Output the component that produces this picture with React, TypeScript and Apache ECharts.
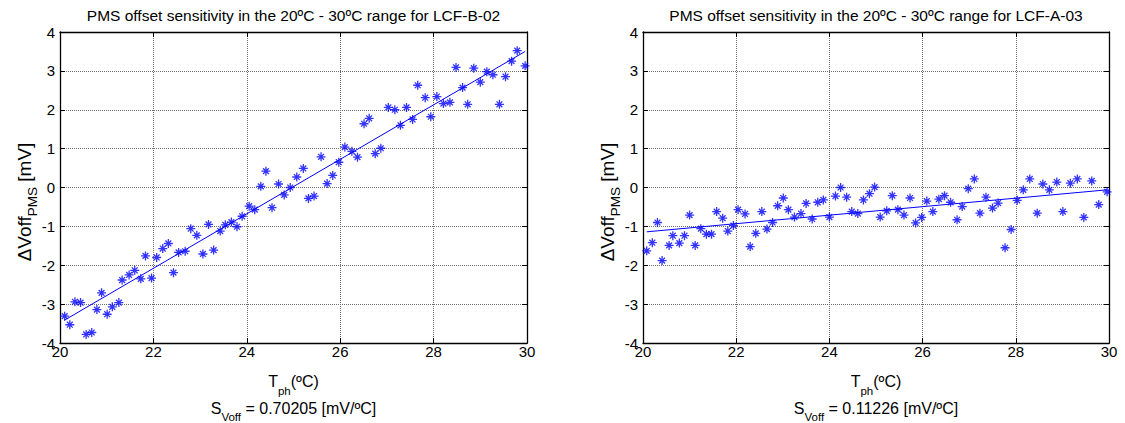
import React, { useEffect, useRef } from "react";
import * as echarts from "echarts";

// ---- data ----
const leftX = [20.10,20.21,20.32,20.44,20.56,20.68,20.79,20.89,21.01,21.12,21.26,21.33,21.48,21.60,21.73,21.83,21.96,22.07,22.20,22.32,22.43,22.54,22.68,22.80,22.93,23.06,23.18,23.29,23.43,23.54,23.67,23.79,23.90,24.05,24.17,24.30,24.41,24.54,24.68,24.80,24.93,25.07,25.21,25.32,25.44,25.59,25.72,25.84,25.97,26.10,26.25,26.37,26.51,26.62,26.75,26.87,27.03,27.17,27.29,27.42,27.55,27.66,27.82,27.94,28.07,28.21,28.35,28.48,28.62,28.73,28.86,29.00,29.14,29.27,29.41,29.54,29.67,29.79,29.96];
const leftY = [-3.31,-3.53,-2.94,-2.96,-3.78,-3.73,-3.14,-2.71,-3.26,-3.07,-2.96,-2.38,-2.25,-2.13,-2.35,-1.76,-2.33,-1.80,-1.57,-1.44,-2.19,-1.67,-1.64,-1.06,-1.23,-1.71,-0.95,-1.61,-1.12,-0.96,-0.89,-1.01,-0.74,-0.48,-0.57,0.03,0.42,-0.52,0.09,-0.19,0.00,0.27,0.49,-0.28,-0.22,0.79,0.10,0.31,0.65,1.04,0.93,0.78,1.64,1.78,0.87,1.01,2.06,2.00,1.60,2.06,1.75,2.63,2.31,1.82,2.34,2.16,2.19,3.09,2.57,2.14,3.07,2.71,2.98,2.90,2.14,2.85,3.25,3.52,3.13];
const leftFitX = [20.10, 29.96];
const leftFitY = [-3.41, 3.50];

const rightX = [20.08,20.20,20.31,20.41,20.56,20.64,20.78,20.89,21.00,21.12,21.24,21.36,21.47,21.58,21.71,21.82,21.94,22.04,22.19,22.30,22.42,22.55,22.66,22.78,22.89,23.01,23.12,23.25,23.39,23.50,23.63,23.75,23.87,24.00,24.13,24.24,24.37,24.48,24.61,24.73,24.86,24.97,25.09,25.23,25.35,25.47,25.60,25.73,25.85,25.98,26.09,26.22,26.35,26.47,26.60,26.74,26.85,26.98,27.11,27.23,27.36,27.50,27.62,27.77,27.90,28.03,28.16,28.30,28.46,28.58,28.72,28.88,29.01,29.17,29.32,29.46,29.63,29.78,29.96];
const rightY = [-1.63,-1.42,-0.90,-1.88,-1.49,-1.24,-1.43,-1.24,-0.71,-1.49,-1.06,-1.20,-1.20,-0.62,-0.79,-1.12,-0.98,-0.57,-0.68,-1.52,-1.18,-0.62,-1.07,-0.90,-0.47,-0.27,-0.57,-0.76,-0.67,-0.41,-0.81,-0.38,-0.32,-0.76,-0.22,0.00,-0.25,-0.62,-0.67,-0.32,-0.16,0.01,-0.76,-0.60,-0.21,-0.57,-0.71,-0.27,-0.91,-0.77,-0.35,-0.62,-0.30,-0.21,-0.38,-0.83,-0.49,-0.03,0.22,-0.66,-0.25,-0.53,-0.40,-1.55,-1.08,-0.33,-0.06,0.22,-0.66,0.09,-0.06,0.14,-0.62,0.11,0.22,-0.77,0.17,-0.44,-0.11];
const rightFitX = [20.08, 29.96];
const rightFitY = [-1.14, -0.06];

const titles = [
  "PMS offset sensitivity in the 20ºC - 30ºC range for LCF-B-02",
  "PMS offset sensitivity in the 20ºC - 30ºC range for LCF-A-03",
];
const slopes = ["0.70205", "0.11226"];
const xTicks = { min: 20, max: 30, interval: 2 };
const yTicks = { min: -4, max: 4, interval: 1 };

const FONT = "'Liberation Sans', Arial, Helvetica, sans-serif";
const BLUE = "#0000ff";
const STAR = "path://M4.5,0L4.5,9M0,4.5L9,4.5M1.6,1.6L7.4,7.4M1.6,7.4L7.4,1.6";

const zip = (xs: number[], ys: number[]) => xs.map((x, i) => [x, ys[i]]);

export default function App() {
  const ref = useRef<HTMLDivElement>(null);
  useEffect(() => {
    if (!ref.current) return;
    const chart = echarts.init(ref.current, null, { renderer: "svg" });
    const grids = [
      { left: 60, top: 32, width: 467, height: 311 },
      { left: 643, top: 32, width: 466, height: 311 },
    ];
    const centers = [60 + 467 / 2, 643 + 466 / 2];
    const axisLine = { show: true, onZero: false, lineStyle: { color: "#000", width: 1.3 } };
    const tick = { show: true, inside: true, length: 5, lineStyle: { color: "#000" } };
    const split = { show: true, lineStyle: { color: "#6e6e6e", type: [1, 1] as any, width: 1 } };
    const xAxis: any[] = [];
    const yAxis: any[] = [];
    grids.forEach((_, i) => {
      xAxis.push({
        gridIndex: i, type: "value", position: "bottom", ...xTicks,
        axisLine, axisTick: tick, splitLine: split,
        axisLabel: { color: "#000", fontSize: 15, fontFamily: FONT, margin: 1 },
      });
      xAxis.push({
        gridIndex: i, type: "value", position: "top", ...xTicks,
        axisLine, axisTick: tick, splitLine: { show: false }, axisLabel: { show: false },
      });
      yAxis.push({
        gridIndex: i, type: "value", position: "left", ...yTicks,
        axisLine, axisTick: tick, splitLine: split,
        axisLabel: { color: "#000", fontSize: 15, fontFamily: FONT, margin: 5, padding: [5, 0, 0, 0] },
      });
      yAxis.push({
        gridIndex: i, type: "value", position: "right", ...yTicks,
        axisLine, axisTick: tick, splitLine: { show: false }, axisLabel: { show: false },
      });
    });
    const scatter = (xs: number[], ys: number[], idx: number) => ({
      type: "scatter", xAxisIndex: idx, yAxisIndex: idx, data: zip(xs, ys),
      symbol: STAR, symbolSize: 9,
      itemStyle: { color: "rgba(0,0,0,0)", borderColor: BLUE, borderWidth: 1.3 },
      z: 3,
    });
    const fit = (xs: number[], ys: number[], idx: number) => ({
      type: "line", xAxisIndex: idx, yAxisIndex: idx, data: zip(xs, ys),
      symbol: "none", lineStyle: { color: BLUE, width: 1 }, z: 2,
    });
    const graphic: any[] = [];
    centers.forEach((cx, i) => {
      graphic.push({
        type: "text", x: cx, y: 15.5,
        style: { text: titles[i], fill: "#000", font: `15.5px ${FONT}`, align: "center", verticalAlign: "middle" },
      });
      graphic.push({
        type: "text", x: cx, y: 381,
        style: {
          text: "{m|T}{s|ph}{m|(ºC)}", fill: "#000", align: "center", verticalAlign: "middle",
          rich: {
            m: { fontSize: 16, fontFamily: FONT, lineHeight: 32, fill: "#000" },
            s: { fontSize: 11.5, fontFamily: FONT, lineHeight: 11, verticalAlign: "bottom", fill: "#000" },
          },
        },
      });
      graphic.push({
        type: "text", x: cx, y: 408,
        style: {
          text: `{m|S}{s|Voff}{m| = ${slopes[i]} [mV/ºC]}`, fill: "#000", align: "center", verticalAlign: "middle",
          rich: {
            m: { fontSize: 16, fontFamily: FONT, lineHeight: 30, fill: "#000" },
            s: { fontSize: 11.5, fontFamily: FONT, lineHeight: 11, verticalAlign: "bottom", fill: "#000" },
          },
        },
      });
      const gx = i === 0 ? 24 : 607;
      graphic.push({
        type: "text", x: gx, y: 202, rotation: Math.PI / 2,
        style: {
          text: "{m|ΔVoff}{s|PMS}{m| [mV]}", fill: "#000", align: "center", verticalAlign: "middle",
          rich: {
            m: { fontSize: 19, fontFamily: FONT, lineHeight: 31, fill: "#000" },
            s: { fontSize: 13.5, fontFamily: FONT, lineHeight: 14, verticalAlign: "bottom", fill: "#000" },
          },
        },
      });
    });
    chart.setOption({
      animation: false,
      backgroundColor: "#fff",
      grid: grids,
      xAxis,
      yAxis,
      series: [
        scatter(leftX, leftY, 0),
        fit(leftFitX, leftFitY, 0),
        scatter(rightX, rightY, 2),
        fit(rightFitX, rightFitY, 2),
      ],
      graphic,
    });
    return () => chart.dispose();
  }, []);
  return (
    <div
      ref={ref}
      style={{ position: "fixed", left: 0, top: 0, width: 1125, height: 423, background: "#fff" }}
    />
  );
}
